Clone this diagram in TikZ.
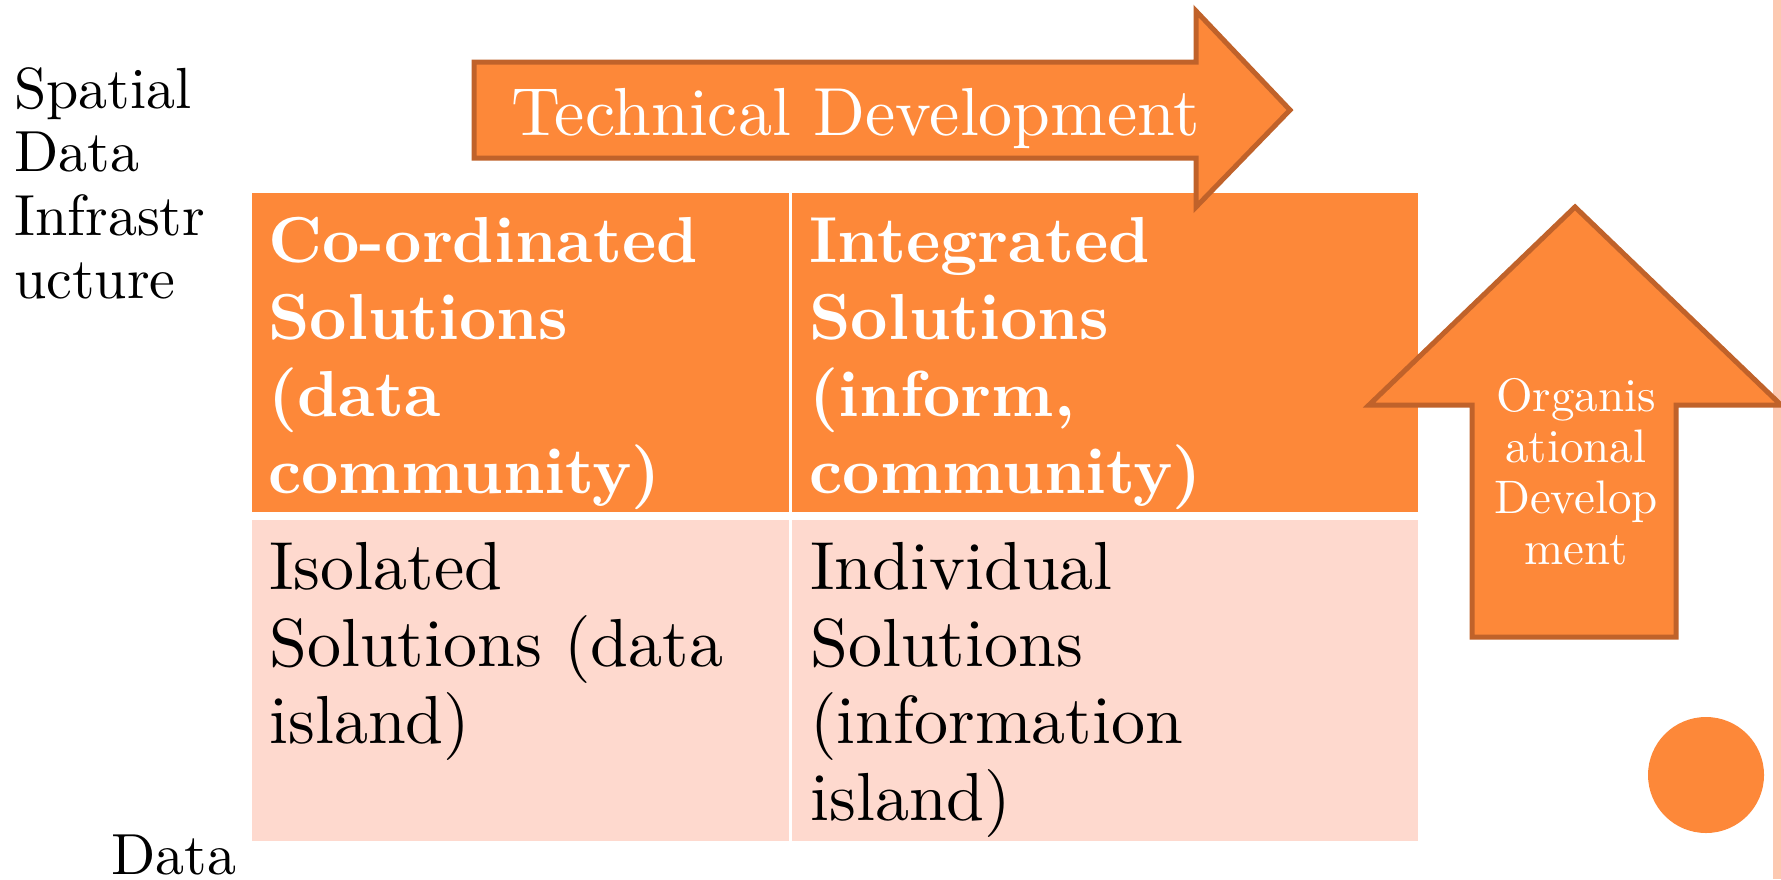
\documentclass[tikz,border=0pt]{standalone}
\usepackage{fontspec}
\setmainfont{lmroman10-regular.otf}[BoldFont=lmroman10-bold.otf]
\usepackage{tikz}
\definecolor{orfill}{RGB}{253,136,57}
\definecolor{ordraw}{RGB}{192,98,42}
\definecolor{pinkcell}{RGB}{254,217,206}
\definecolor{pinkbar}{RGB}{253,200,177}
\tikzset{
  bigarrow/.style={fill=orfill, draw=ordraw, line width=2.5pt, line join=miter},
  lbl/.style={anchor=base west, inner sep=0pt, font=\fontsize{29}{31.75}\selectfont},
  celltxt/.style={anchor=base west, inner sep=0pt},
}
\begin{document}
\begin{tikzpicture}[x=0.5pt,y=-0.5pt]
\useasboundingbox (0,0) rectangle (1781,879);
\fill[white] (0,0) rectangle (1781,879);
% right bar
\fill[pinkbar] (1773,0) rectangle (1781,879);
% table cells
\fill[orfill] (252,193) rectangle (789,512);
\fill[orfill] (792,193) rectangle (1418,512);
\fill[pinkcell] (252,520) rectangle (789,841);
\fill[pinkcell] (792,520) rectangle (1418,841);
% cell texts
\node[celltxt, text=white] (tl) at (268,262) {\parbox[t]{520pt}{\fontsize{32.5}{38.5}\selectfont\bfseries Co-ordinated\\Solutions\\(data\\community)}};
\node[celltxt, text=white] (tr) at (809,262) {\parbox[t]{600pt}{\fontsize{32.5}{38.5}\selectfont\bfseries Integrated\\Solutions\\(inform,\\community)}};
\node[celltxt, text=black] (bl) at (269,589) {\parbox[t]{520pt}{\fontsize{34}{38.5}\selectfont Isolated\\Solutions (data\\island)}};
\node[celltxt, text=black] (br) at (810,589) {\parbox[t]{600pt}{\fontsize{34}{38.5}\selectfont Individual\\Solutions\\(information\\island)}};
% horizontal arrow
\draw[bigarrow] (474,62) -- (1196,62) -- (1196,11) -- (1290,110) -- (1196,207) -- (1196,158) -- (474,158) -- cycle;
\node[celltxt, text=white, font=\fontsize{34}{38}\selectfont] (tech) at (511,135) {Technical Development};
% up arrow
\draw[bigarrow] (1472,637) -- (1472,405) -- (1369,405) -- (1575,207) -- (1781,405) -- (1676,405) -- (1676,637) -- cycle;
\node[anchor=base, inner sep=0pt, text=white] (org) at (1576,411) {\parbox[t]{200pt}{\centering\fontsize{23.5}{25.5}\selectfont Organis\\ational\\Develop\\ment}};
% left labels
\node[lbl] (sdi) at (14,108) {\parbox[t]{200pt}{\fontsize{29}{31.75}\selectfont Spatial\\Data\\Infrastr\\ucture}};
\node[lbl] (data) at (111,874) {Data};
% circle
\fill[orfill] (1706,775) circle (29pt);
\end{tikzpicture}
\end{document}
